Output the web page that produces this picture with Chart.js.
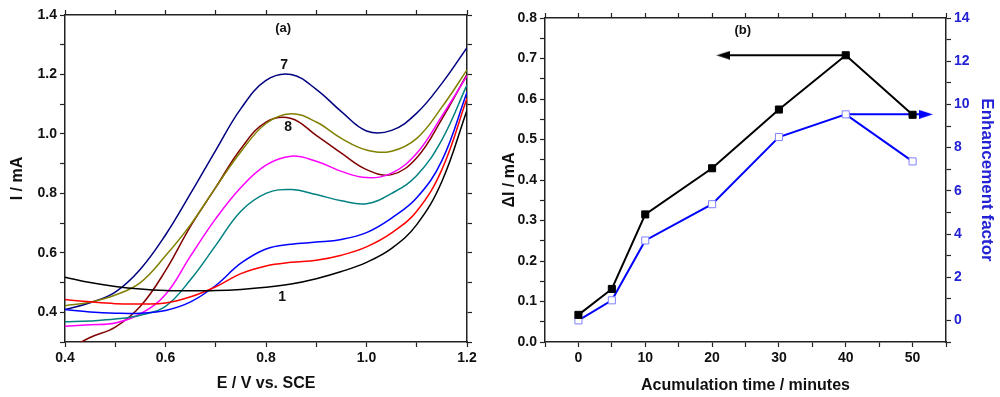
<!DOCTYPE html>
<html>
<head>
<meta charset="utf-8">
<script src="https://cdn.jsdelivr.net/npm/chart.js@4.4.0/dist/chart.umd.min.js"></script>
<style>
  html, body { margin: 0; padding: 0; background: #fff; }
  #wrap { position: relative; width: 1000px; height: 397px; }
  canvas { position: absolute; top: 0; }
  #cvA { left: 0; }
  #cvB { left: 500px; }
</style>
</head>
<body>
<div id="wrap">
  <canvas id="cvA" width="500" height="397"></canvas>
  <canvas id="cvB" width="500" height="397"></canvas>
</div>
<script>
// (a) voltammograms: E / V vs. SCE against I / mA
const potential = [0.40, 0.45, 0.50, 0.55, 0.60, 0.65, 0.70, 0.75, 0.80, 0.85, 0.90, 0.95, 1.00, 1.05, 1.10, 1.15, 1.20];
const curve1 = [0.518, 0.500, 0.487, 0.478, 0.473, 0.472, 0.473, 0.477, 0.484, 0.495, 0.513, 0.537, 0.568, 0.615, 0.695, 0.840, 1.080];
const curve2 = [0.443, 0.435, 0.429, 0.428, 0.431, 0.452, 0.486, 0.530, 0.556, 0.568, 0.575, 0.592, 0.620, 0.667, 0.740, 0.880, 1.120];
const curve3 = [0.409, 0.401, 0.397, 0.397, 0.406, 0.435, 0.490, 0.565, 0.613, 0.629, 0.636, 0.645, 0.668, 0.717, 0.785, 0.910, 1.140];
const curve4 = [0.368, 0.371, 0.377, 0.390, 0.420, 0.510, 0.625, 0.740, 0.800, 0.813, 0.796, 0.775, 0.765, 0.800, 0.860, 0.980, 1.165];
const curve5 = [0.353, 0.358, 0.364, 0.395, 0.460, 0.590, 0.715, 0.820, 0.895, 0.925, 0.908, 0.874, 0.853, 0.868, 0.935, 1.060, 1.195];
const curve6 = [0.422, 0.434, 0.458, 0.500, 0.590, 0.695, 0.820, 0.940, 1.035, 1.068, 1.040, 0.985, 0.946, 0.942, 0.985, 1.090, 1.215];
const curve7 = [0.409, 0.432, 0.468, 0.545, 0.660, 0.800, 0.945, 1.085, 1.180, 1.200, 1.150, 1.075, 1.010, 1.012, 1.070, 1.170, 1.290];
const curve8 = [0.270, 0.315, 0.350, 0.420, 0.540, 0.690, 0.820, 0.950, 1.040, 1.052, 0.995, 0.935, 0.880, 0.863, 0.920, 1.050, 1.200];
const curves = [curve1, curve2, curve3, curve4, curve5, curve6, curve7, curve8];
const curveColors = ['#000000', '#ff0000', '#0000ff', '#008080', '#ff00ff', '#808000', '#000080', '#800000'];

// (b) accumulation study
const accumTime = [0, 5, 10, 20, 30, 40, 50];
const deltaI = [0.067, 0.131, 0.315, 0.429, 0.574, 0.708, 0.561];
const enhancement = [0.0, 0.93, 3.70, 5.38, 8.49, 9.54, 7.36];
// arrows pointing at the axis each series belongs to
const leftArrowTime = [40, 21.7];
const leftArrowLevel = [0.708, 0.708];
const rightArrowTime = [40, 52.0];
const rightArrowLevel = [9.54, 9.54];

const FONT = "'Liberation Sans', Arial, sans-serif";
const AXIS_COLOR = '#222';
const BLUE_TEXT = '#2222d4';
Chart.defaults.font.family = FONT;
Chart.defaults.color = '#111';

function isMultiple(v, step) {
  const r = v / step;
  return Math.abs(r - Math.round(r)) < 1e-6;
}

// Origin-like framed axis: outward ticks, labels only on the major ones
function axis(position, min, max, step, labelStep, decimals, size, color) {
  const horizontal = position === 'top' || position === 'bottom';
  return {
    type: 'linear',
    position: position,
    min: min,
    max: max,
    border: { display: true, color: AXIS_COLOR, width: 1.5 },
    grid: { drawOnChartArea: false, drawTicks: true, tickLength: 5, tickColor: AXIS_COLOR, tickWidth: 1.2 },
    ticks: {
      display: labelStep > 0,
      stepSize: step,
      autoSkip: false,
      maxRotation: 0,
      padding: 3,
      color: color || '#111',
      font: { size: 14, weight: 'bold' },
      callback: v => (labelStep > 0 && isMultiple(v, labelStep)) ? v.toFixed(decimals) : ''
    },
    afterFit: s => { if (horizontal) s.height = size; else s.width = size; }
  };
}

function axisTitle(text, size, pad, color) {
  return { display: true, text: text, color: color || '#111', font: { size: size, weight: 'bold' }, padding: pad };
}

const notesPlugin = {
  id: 'notes',
  afterDatasetsDraw(chart, args, opts) {
    const ctx = chart.ctx;
    ctx.save();
    ctx.textAlign = 'center';
    ctx.textBaseline = 'middle';
    opts.items.forEach(n => {
      const px = chart.scales.x.getPixelForValue(n.x);
      const py = chart.scales[n.axis].getPixelForValue(n.y);
      ctx.font = 'bold ' + n.size + 'px ' + FONT;
      ctx.fillStyle = '#111';
      ctx.fillText(n.text, px, py);
    });
    ctx.restore();
  }
};

function arrowHead(color, pointLeft) {
  const c = document.createElement('canvas');
  c.width = 14;
  c.height = 9;
  const g = c.getContext('2d');
  g.fillStyle = color;
  g.beginPath();
  if (pointLeft) {
    g.moveTo(0, 4.5); g.lineTo(14, 0); g.lineTo(14, 9);
  } else {
    g.moveTo(14, 4.5); g.lineTo(0, 0); g.lineTo(0, 9);
  }
  g.closePath();
  g.fill();
  return c;
}

// ---------- panel (a) ----------
const scalesA = {
  x: axis('bottom', 0.4, 1.2, 0.1, 0.2, 1, 55),
  x2: axis('top', 0.4, 1.2, 0.1, 0, 0, 15),
  y: axis('left', 0.3, 1.4, 0.1, 0.2, 1, 65),
  y2: axis('right', 0.3, 1.4, 0.1, 0, 0, 33)
};
scalesA.x.title = axisTitle('E / V vs. SCE', 16, { top: 0, bottom: 4 });
scalesA.y.title = axisTitle('I / mA', 16, { top: 8, bottom: 0 });

new Chart(document.getElementById('cvA'), {
  type: 'line',
  data: {
    datasets: curves.map((c, i) => ({
      label: String(i + 1),
      data: c.map((v, j) => ({ x: potential[j], y: v })),
      borderColor: curveColors[i],
      borderWidth: 1.5,
      pointRadius: 0,
      tension: 0.4,
      fill: false
    }))
  },
  options: {
    responsive: false,
    animation: false,
    layout: { padding: 0 },
    scales: scalesA,
    plugins: {
      legend: { display: false },
      tooltip: { enabled: false },
      notes: {
        items: [
          { text: '(a)', x: 0.834, y: 1.356, axis: 'y', size: 13 },
          { text: '7', x: 0.836, y: 1.232, axis: 'y', size: 14 },
          { text: '8', x: 0.844, y: 1.024, axis: 'y', size: 14 },
          { text: '1', x: 0.832, y: 0.451, axis: 'y', size: 14 }
        ]
      }
    }
  },
  plugins: [notesPlugin]
});

// ---------- panel (b) ----------
const scalesB = {
  x: axis('bottom', -5, 55, 5, 10, 0, 55),
  x2: axis('top', -5, 55, 5, 0, 0, 18),
  y: axis('left', 0, 0.8, 0.05, 0.1, 1, 45),
  yR: axis('right', -1, 14, 1, 2, 0, 54, BLUE_TEXT)
};
scalesB.x.title = axisTitle('Acumulation time / minutes', 16, { top: 0, bottom: 2 });
scalesB.y.title = axisTitle('\u0394I / mA', 16, { top: 0, bottom: 0 });
scalesB.yR.title = axisTitle('Enhancement factor', 17, { top: 3, bottom: 0 }, BLUE_TEXT);

const headLeft = arrowHead('#000000', true);
const headRight = arrowHead('#0000ff', false);

new Chart(document.getElementById('cvB'), {
  type: 'line',
  data: {
    datasets: [
      {
        label: 'dI',
        data: accumTime.map((t, i) => ({ x: t, y: deltaI[i] })),
        yAxisID: 'y',
        borderColor: '#000000',
        borderWidth: 2,
        tension: 0,
        pointStyle: 'rect',
        pointRadius: 5,
        pointBackgroundColor: '#000000',
        pointBorderColor: '#000000',
        pointBorderWidth: 1
      },
      {
        label: 'Enhancement factor',
        data: accumTime.map((t, i) => ({ x: t, y: enhancement[i] })),
        yAxisID: 'yR',
        borderColor: '#0000ff',
        borderWidth: 2,
        tension: 0,
        pointStyle: 'rect',
        pointRadius: 5,
        pointBackgroundColor: '#ffffff',
        pointBorderColor: '#8080ff',
        pointBorderWidth: 1
      },
      {
        label: 'left arrow',
        data: leftArrowTime.map((t, i) => ({ x: t, y: leftArrowLevel[i] })),
        yAxisID: 'y',
        borderColor: '#000000',
        borderWidth: 2,
        pointStyle: ctx => ctx.dataIndex === 1 ? headLeft : 'circle',
        pointRadius: ctx => ctx.dataIndex === 1 ? 7 : 0
      },
      {
        label: 'right arrow',
        data: rightArrowTime.map((t, i) => ({ x: t, y: rightArrowLevel[i] })),
        yAxisID: 'yR',
        borderColor: '#0000ff',
        borderWidth: 2,
        pointStyle: ctx => ctx.dataIndex === 1 ? headRight : 'circle',
        pointRadius: ctx => ctx.dataIndex === 1 ? 7 : 0
      }
    ]
  },
  options: {
    responsive: false,
    animation: false,
    layout: { padding: 0 },
    scales: scalesB,
    plugins: {
      legend: { display: false },
      tooltip: { enabled: false },
      notes: {
        items: [
          { text: '(b)', x: 24.6, y: 0.769, axis: 'y', size: 13 }
        ]
      }
    }
  },
  plugins: [notesPlugin]
});
</script>
</body>
</html>
